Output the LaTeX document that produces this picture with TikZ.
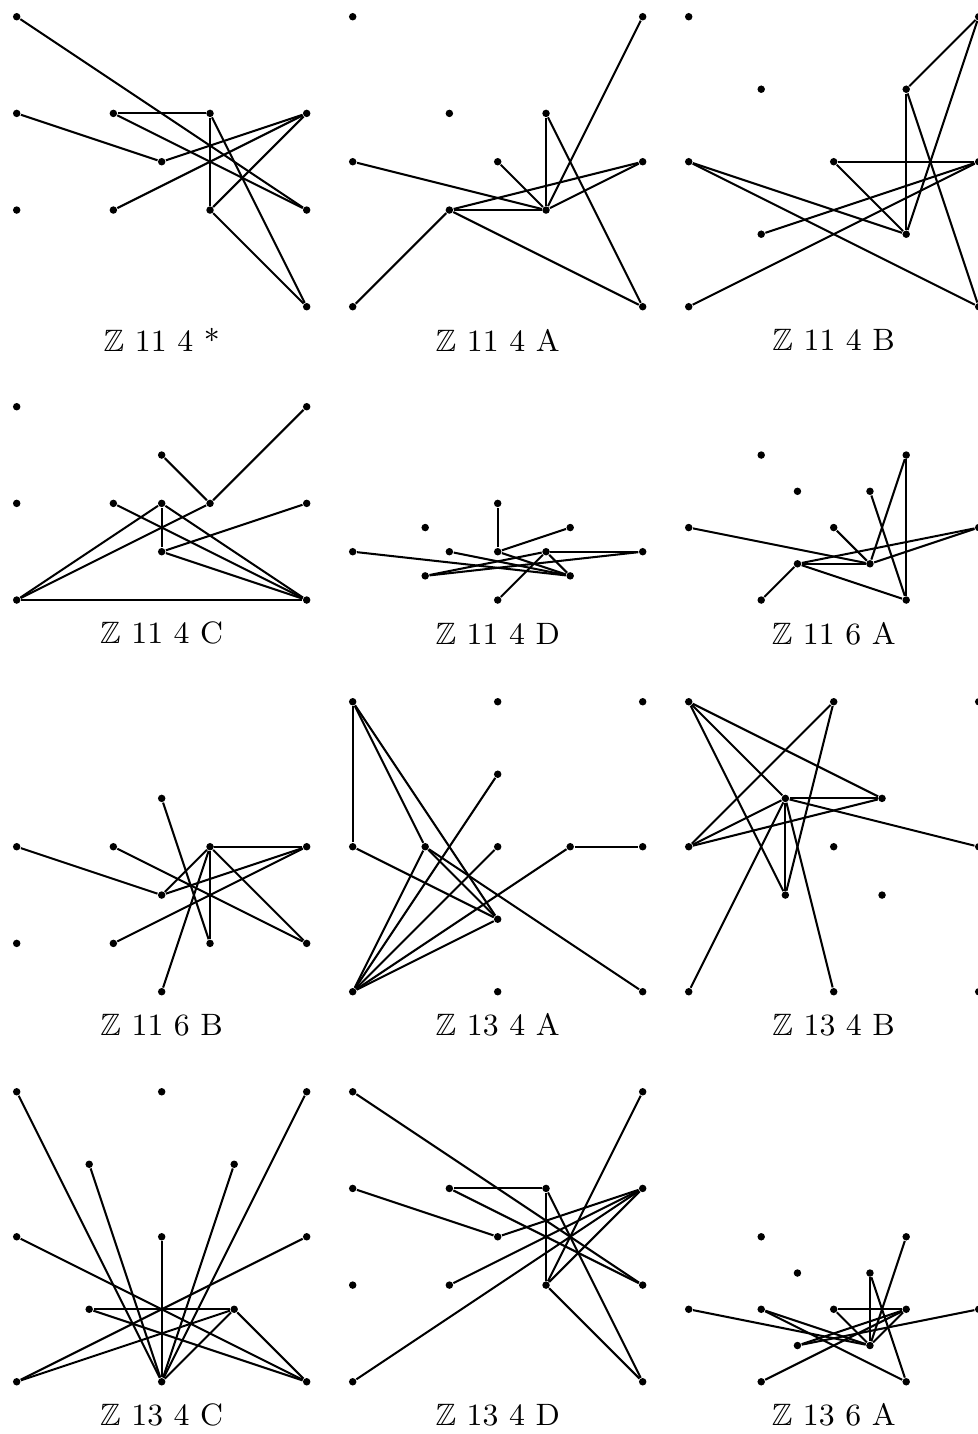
\documentclass[tikz,border=0pt]{standalone}
\usepackage{amssymb}
\tikzset{
  pt/.style={circle,fill=black,inner sep=0pt,minimum size=2.2pt},
  edge/.style={line width=0.6pt},
  lab/.style={anchor=center,inner sep=0pt,font=\fontsize{9.1pt}{11pt}\selectfont}
}
\begin{document}
\begin{tikzpicture}[x=0.5cm,y=0.5cm]
\useasboundingbox (0,0) rectangle (20.215,-29.67);
\def\ca{0.3455}\def\cb{7.2977}\def\cc{14.2499}
\def\ra{-6.346}\def\rb{-12.415}\def\rc{-20.519}\def\rd{-28.589}
% Panel 1
\begin{scope}[shift={(\ca,\ra)}]
\foreach \n/\x/\y in {a/0/6,b/0/4,c/0/2,d/2/4,e/4/4,f/6/4,g/3/3,h/2/2,i/4/2,j/6/2,k/6/0}
  \node[pt] (p1\n) at (\x,\y) {};
\foreach \u/\v in {a/j,b/g,d/e,d/j,e/i,e/k,g/f,h/f,i/f,i/k}
  \draw[edge] (p1\u) -- (p1\v);
\node[lab] (l1) at (3,-0.69) {$\mathbb{Z}$ 11 4 *};
\end{scope}
% Panel 2
\begin{scope}[shift={(\cb,\ra)}]
\foreach \n/\x/\y in {a/0/6,b/6/6,c/2/4,d/4/4,e/0/3,f/3/3,g/6/3,h/2/2,i/4/2,j/0/0,k/6/0}
  \node[pt] (p2\n) at (\x,\y) {};
\foreach \u/\v in {d/i,d/k,b/i,e/i,f/i,g/i,h/g,h/i,j/h,h/k}
  \draw[edge] (p2\u) -- (p2\v);
\node[lab] (l2) at (3,-0.69) {$\mathbb{Z}$ 11 4 A};
\end{scope}
% Panel 3
\begin{scope}[shift={(\cc,\ra)}]
\foreach \n/\x/\y in {a/0/6,b/1.5/4.5,c/4.5/4.5,d/6/6,e/0/3,f/3/3,g/6/3,h/1.5/1.5,i/4.5/1.5,j/0/0,k/6/0}
  \node[pt] (p3\n) at (\x,\y) {};
\foreach \u/\v in {c/d,d/i,c/i,c/k,f/g,f/i,e/i,e/k,h/g,j/g}
  \draw[edge] (p3\u) -- (p3\v);
\node[lab] (l3) at (3,-0.69) {$\mathbb{Z}$ 11 4 B};
\end{scope}
% Panel 4
\begin{scope}[shift={(\ca,\rb)}]
\foreach \n/\x/\y in {a/0/4,b/6/4,c/3/3,d/0/2,e/2/2,f/3/2,g/4/2,h/6/2,i/3/1,j/0/0,k/6/0}
  \node[pt] (p4\n) at (\x,\y) {};
\foreach \u/\v in {b/g,c/g,g/j,f/j,f/i,f/k,e/k,i/h,i/k,j/k}
  \draw[edge] (p4\u) -- (p4\v);
\node[lab] (l4) at (3,-0.69) {$\mathbb{Z}$ 11 4 C};
\end{scope}
% Panel 5
\begin{scope}[shift={(\cb,\rb)}]
\foreach \n/\x/\y in {a/3/2,b/1.5/1.5,c/4.5/1.5,d/0/1,e/2/1,f/3/1,g/4/1,h/6/1,i/1.5/0.5,j/4.5/0.5,k/3/0}
  \node[pt] (p5\n) at (\x,\y) {};
\foreach \u/\v in {a/f,f/c,f/j,d/j,e/j,g/h,g/j,g/i,g/k,i/h}
  \draw[edge] (p5\u) -- (p5\v);
\node[lab] (l5) at (3,-0.69) {$\mathbb{Z}$ 11 4 D};
\end{scope}
% Panel 6
\begin{scope}[shift={(\cc,\rb)}]
\foreach \n/\x/\y in {a/1.5/3,b/4.5/3,c/2.25/2.25,d/3.75/2.25,e/0/1.5,f/3/1.5,g/6/1.5,h/2.25/0.75,i/3.75/0.75,j/1.5/0,k/4.5/0}
  \node[pt] (p6\n) at (\x,\y) {};
\foreach \u/\v in {b/k,b/i,d/k,e/i,f/i,h/i,h/g,i/g,h/k,j/h}
  \draw[edge] (p6\u) -- (p6\v);
\node[lab] (l6) at (3,-0.69) {$\mathbb{Z}$ 11 6 A};
\end{scope}
% Panel 7
\begin{scope}[shift={(\ca,\rc)}]
\foreach \n/\x/\y in {a/3/4,b/0/3,c/2/3,d/4/3,e/6/3,f/3/2,g/0/1,h/2/1,i/4/1,j/6/1,k/3/0}
  \node[pt] (p7\n) at (\x,\y) {};
\foreach \u/\v in {a/i,b/f,c/j,d/e,d/f,d/i,d/k,d/j,f/e,h/e}
  \draw[edge] (p7\u) -- (p7\v);
\node[lab] (l7) at (3,-0.69) {$\mathbb{Z}$ 11 6 B};
\end{scope}
% Panel 8
\begin{scope}[shift={(\cb,\rc)}]
\foreach \n/\x/\y in {a/0/6,b/3/6,c/6/6,d/3/4.5,e/0/3,f/1.5/3,g/3/3,h/4.5/3,i/6/3,j/3/1.5,k/0/0,l/3/0,m/6/0}
  \node[pt] (p8\n) at (\x,\y) {};
\foreach \u/\v in {a/e,a/f,a/j,e/j,f/j,f/m,h/i,k/f,k/d,k/g,k/h,k/j}
  \draw[edge] (p8\u) -- (p8\v);
\node[lab] (l8) at (3,-0.69) {$\mathbb{Z}$ 13 4 A};
\end{scope}
% Panel 9
\begin{scope}[shift={(\cc,\rc)}]
\foreach \n/\x/\y in {a/0/6,b/3/6,c/6/6,d/2/4,e/4/4,f/0/3,g/3/3,h/6/3,i/2/2,j/4/2,k/0/0,l/3/0,m/6/0}
  \node[pt] (p9\n) at (\x,\y) {};
\foreach \u/\v in {a/e,a/d,a/i,b/f,b/i,d/e,d/f,e/f,d/h,d/i,d/k,d/l}
  \draw[edge] (p9\u) -- (p9\v);
\node[lab] (l9) at (3,-0.69) {$\mathbb{Z}$ 13 4 B};
\end{scope}
% Panel 10
\begin{scope}[shift={(\ca,\rd)}]
\foreach \n/\x/\y in {a/0/6,b/3/6,c/6/6,d/1.5/4.5,e/4.5/4.5,f/0/3,g/3/3,h/6/3,i/1.5/1.5,j/4.5/1.5,k/0/0,l/3/0,m/6/0}
  \node[pt] (pA\n) at (\x,\y) {};
\foreach \u/\v in {a/l,d/l,e/l,c/l,g/l,f/m,h/k,i/j,i/m,j/k,j/l,j/m}
  \draw[edge] (pA\u) -- (pA\v);
\node[lab] (lA) at (3,-0.69) {$\mathbb{Z}$ 13 4 C};
\end{scope}
% Panel 11
\begin{scope}[shift={(\cb,\rd)}]
\foreach \n/\x/\y in {a/0/6,b/6/6,c/0/4,d/2/4,e/4/4,f/6/4,g/3/3,h/0/2,i/2/2,j/4/2,k/6/2,l/0/0,m/6/0}
  \node[pt] (pB\n) at (\x,\y) {};
\foreach \u/\v in {a/k,c/g,d/e,d/k,e/j,e/m,g/f,i/f,j/f,l/f,b/j,j/m}
  \draw[edge] (pB\u) -- (pB\v);
\node[lab] (lB) at (3,-0.69) {$\mathbb{Z}$ 13 4 D};
\end{scope}
% Panel 12
\begin{scope}[shift={(\cc,\rd)}]
\foreach \n/\x/\y in {a/1.5/3,b/4.5/3,c/2.25/2.25,d/3.75/2.25,e/0/1.5,f/1.5/1.5,g/3/1.5,h/4.5/1.5,i/6/1.5,j/2.25/0.75,k/3.75/0.75,l/1.5/0,m/4.5/0}
  \node[pt] (pC\n) at (\x,\y) {};
\foreach \u/\v in {b/k,d/k,d/m,e/k,f/k,f/m,g/h,g/k,h/j,h/k,h/l,j/i}
  \draw[edge] (pC\u) -- (pC\v);
\node[lab] (lC) at (3,-0.69) {$\mathbb{Z}$ 13 6 A};
\end{scope}
\end{tikzpicture}
\end{document}
